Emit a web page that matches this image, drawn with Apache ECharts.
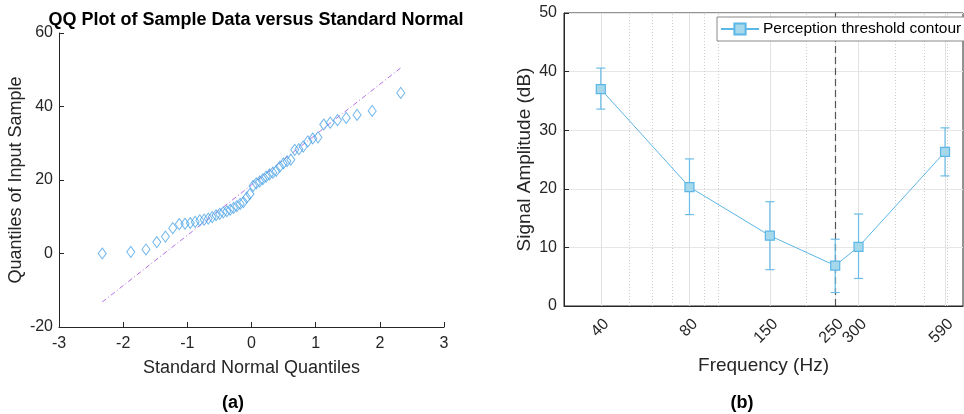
<!DOCTYPE html>
<html>
<head>
<meta charset="utf-8">
<script src="https://cdn.jsdelivr.net/npm/echarts@6/dist/echarts.min.js"></script>
<style>
  html, body { margin: 0; padding: 0; background: #fff; }
  #chart { width: 964px; height: 414px; }
</style>
</head>
<body>
<div id="chart"></div>
<script>
// (a) QQ plot: theoretical normal quantiles and the sorted sample
var qqX = [-2.326, -1.881, -1.645, -1.476, -1.341, -1.227, -1.126, -1.036, -0.954, -0.878,
  -0.806, -0.739, -0.674, -0.613, -0.553, -0.496, -0.440, -0.385, -0.332, -0.279,
  -0.228, -0.176, -0.126, -0.075, -0.025, 0.025, 0.075, 0.126, 0.176, 0.228,
  0.279, 0.332, 0.385, 0.440, 0.496, 0.553, 0.613, 0.674, 0.739, 0.806,
  0.878, 0.954, 1.036, 1.126, 1.227, 1.341, 1.476, 1.645, 1.881, 2.326];
var qqY = [0.0, 0.45, 1.1, 3.1, 4.6, 6.9, 8.0, 8.1, 8.3, 8.6,
  9.0, 9.2, 9.5, 9.9, 10.4, 10.8, 11.2, 11.5, 11.9, 12.4,
  12.9, 13.5, 14.0, 15.2, 16.2, 18.4, 19.1, 19.6, 20.2, 20.9,
  21.5, 22.0, 22.5, 23.6, 24.5, 25.1, 25.5, 28.2, 28.4, 29.1,
  30.5, 31.3, 31.6, 35.1, 35.6, 36.3, 36.9, 37.7, 38.8, 43.7];
// reference line end points
var refX = [-2.326, 2.326];
var refY = [-13.2, 50.5];

// (b) perception threshold contour
var freqs = [40, 80, 150, 250, 300, 590];
var amp = [37.0, 20.3, 12.0, 6.9, 10.1, 26.3];
var ampLow = [33.6, 15.6, 6.2, 2.3, 4.7, 22.2];
var ampHigh = [40.6, 25.1, 17.8, 11.4, 15.7, 30.4];
var freqTicks = [40, 80, 150, 250, 300, 590];
var freqMinor = [50, 60, 70, 90, 100, 200, 400, 500, 600];
var markFreq = 250;

var font = 'Liberation Sans, Arial, sans-serif';
var ink = '#262626';
var blue = '#5cb6e6';

var chart = echarts.init(document.getElementById('chart'));

// vertical grid lines of the log axis (major at ticks, dotted minor)
var gridMarks = [];
freqTicks.forEach(function (f) {
  gridMarks.push({ xAxis: f, lineStyle: { color: '#e2e2e2', type: 'solid', width: 1 } });
});
freqMinor.forEach(function (f) {
  gridMarks.push({ xAxis: f, lineStyle: { color: '#cfcfcf', type: [1, 2], width: 1 } });
});

chart.setOption({
  animation: false,
  backgroundColor: '#fff',
  textStyle: { fontFamily: font },
  title: [
    {
      text: 'QQ Plot of Sample Data versus Standard Normal',
      left: 251, top: 6, textAlign: 'center',
      textStyle: { fontFamily: font, fontSize: 18, fontWeight: 'bold', color: '#000' }
    },
    {
      text: '(a)', left: 228, top: 389, textAlign: 'center',
      textStyle: { fontFamily: font, fontSize: 18, fontWeight: 'bold', color: '#000' }
    },
    {
      text: '(b)', left: 737, top: 389, textAlign: 'center',
      textStyle: { fontFamily: font, fontSize: 18, fontWeight: 'bold', color: '#000' }
    }
  ],
  legend: {
    data: ['Perception threshold contour'],
    left: 717, top: 17,
    padding: [4, 4, 4, 3],
    itemWidth: 38, itemHeight: 14, itemGap: 4,
    backgroundColor: '#fff',
    borderColor: '#888', borderWidth: 1, borderRadius: 0,
    textStyle: { fontFamily: font, fontSize: 15.5, color: '#000', padding: [0, 0, 0, -1] }
  },
  grid: [
    { left: 59, top: 33, width: 385, height: 294 },
    { left: 564, top: 13, width: 399, height: 293, show: true, borderColor: ink, borderWidth: 1, backgroundColor: 'transparent' }
  ],
  xAxis: [
    {
      gridIndex: 0, type: 'value', min: -3, max: 3, interval: 1,
      name: 'Standard Normal Quantiles', nameLocation: 'middle', nameGap: 32,
      nameTextStyle: { fontFamily: font, fontSize: 18, color: ink },
      axisLine: { show: true, onZero: false, lineStyle: { color: ink } },
      axisTick: { show: true, inside: true, length: 5, lineStyle: { color: ink } },
      axisLabel: { fontFamily: font, fontSize: 16, color: ink, margin: 9 },
      splitLine: { show: false }
    },
    {
      gridIndex: 1, type: 'log', min: 30, max: 679,
      name: 'Frequency (Hz)', nameLocation: 'middle', nameGap: 50,
      nameTextStyle: { fontFamily: font, fontSize: 19, color: ink },
      axisLine: { show: true, onZero: false, lineStyle: { color: ink } },
      axisTick: { show: true, inside: true, length: 5, customValues: freqTicks, lineStyle: { color: ink } },
      axisLabel: {
        fontFamily: font, fontSize: 16, color: ink, rotate: 45, margin: 10,
        verticalAlign: 'top', customValues: freqTicks
      },
      splitLine: { show: false },
      minorTick: { show: false },
      minorSplitLine: { show: false }
    }
  ],
  yAxis: [
    {
      gridIndex: 0, type: 'value', min: -20, max: 60, interval: 20,
      name: 'Quantiles of Input Sample', nameLocation: 'middle', nameGap: 34,
      nameTextStyle: { fontFamily: font, fontSize: 18, color: ink },
      axisLine: { show: true, onZero: false, lineStyle: { color: ink } },
      axisTick: { show: true, inside: true, length: 5, lineStyle: { color: ink } },
      axisLabel: { fontFamily: font, fontSize: 16, color: ink, margin: 6 },
      splitLine: { show: false }
    },
    {
      gridIndex: 1, type: 'value', min: 0, max: 50, interval: 10,
      name: 'Signal Amplitude (dB)', nameLocation: 'middle', nameGap: 30,
      nameTextStyle: { fontFamily: font, fontSize: 19, color: ink },
      axisLine: { show: true, onZero: false, lineStyle: { color: ink } },
      axisTick: { show: true, inside: true, length: 5, lineStyle: { color: ink } },
      axisLabel: { fontFamily: font, fontSize: 16, color: ink, margin: 7 },
      splitLine: { show: true, lineStyle: { color: '#e6e6e6', width: 1 } }
    }
  ],
  series: [
    {
      type: 'line', xAxisIndex: 0, yAxisIndex: 0, z: 2,
      data: refX.map(function (x, i) { return [x, refY[i]]; }),
      showSymbol: false, symbol: 'none',
      lineStyle: { color: '#b56fe3', width: 1, type: [5, 2.5, 1, 2.5] },
      silent: true
    },
    {
      type: 'scatter', xAxisIndex: 0, yAxisIndex: 0, z: 3,
      data: qqX.map(function (x, i) { return [x, qqY[i]]; }),
      symbol: 'diamond', symbolSize: [8, 11],
      itemStyle: { color: 'rgba(0,0,0,0)', borderColor: '#4aa3e6', borderWidth: 1 }
    },
    {
      type: 'custom', xAxisIndex: 1, yAxisIndex: 1, z: 3,
      encode: { x: 0, y: [1, 2] },
      data: freqs.map(function (f, i) { return [f, ampLow[i], ampHigh[i]]; }),
      renderItem: function (params, api) {
        var lo = api.coord([api.value(0), api.value(1)]);
        var hi = api.coord([api.value(0), api.value(2)]);
        var w = 4.5;
        var st = { stroke: '#6cbde8', lineWidth: 1.2 };
        return {
          type: 'group',
          children: [
            { type: 'line', shape: { x1: lo[0], y1: lo[1], x2: hi[0], y2: hi[1] }, style: st },
            { type: 'line', shape: { x1: lo[0] - w, y1: lo[1], x2: lo[0] + w, y2: lo[1] }, style: st },
            { type: 'line', shape: { x1: hi[0] - w, y1: hi[1], x2: hi[0] + w, y2: hi[1] }, style: st }
          ]
        };
      },
      markLine: {
        z: 1, silent: true, symbol: 'none', label: { show: false },
        data: gridMarks
      }
    },
    {
      name: 'Perception threshold contour',
      type: 'line', xAxisIndex: 1, yAxisIndex: 1, z: 4,
      data: freqs.map(function (f, i) { return [f, amp[i]]; }),
      symbol: 'rect', symbolSize: 9,
      lineStyle: { color: blue, width: 1 },
      itemStyle: { color: '#a6d8ec', borderColor: blue, borderWidth: 1.2 },
      markLine: {
        z: 2, silent: true, symbol: 'none', label: { show: false },
        data: [{ xAxis: markFreq, lineStyle: { color: '#555', type: [7, 4], width: 1.2 } }]
      }
    }
  ]
});
</script>
</body>
</html>
